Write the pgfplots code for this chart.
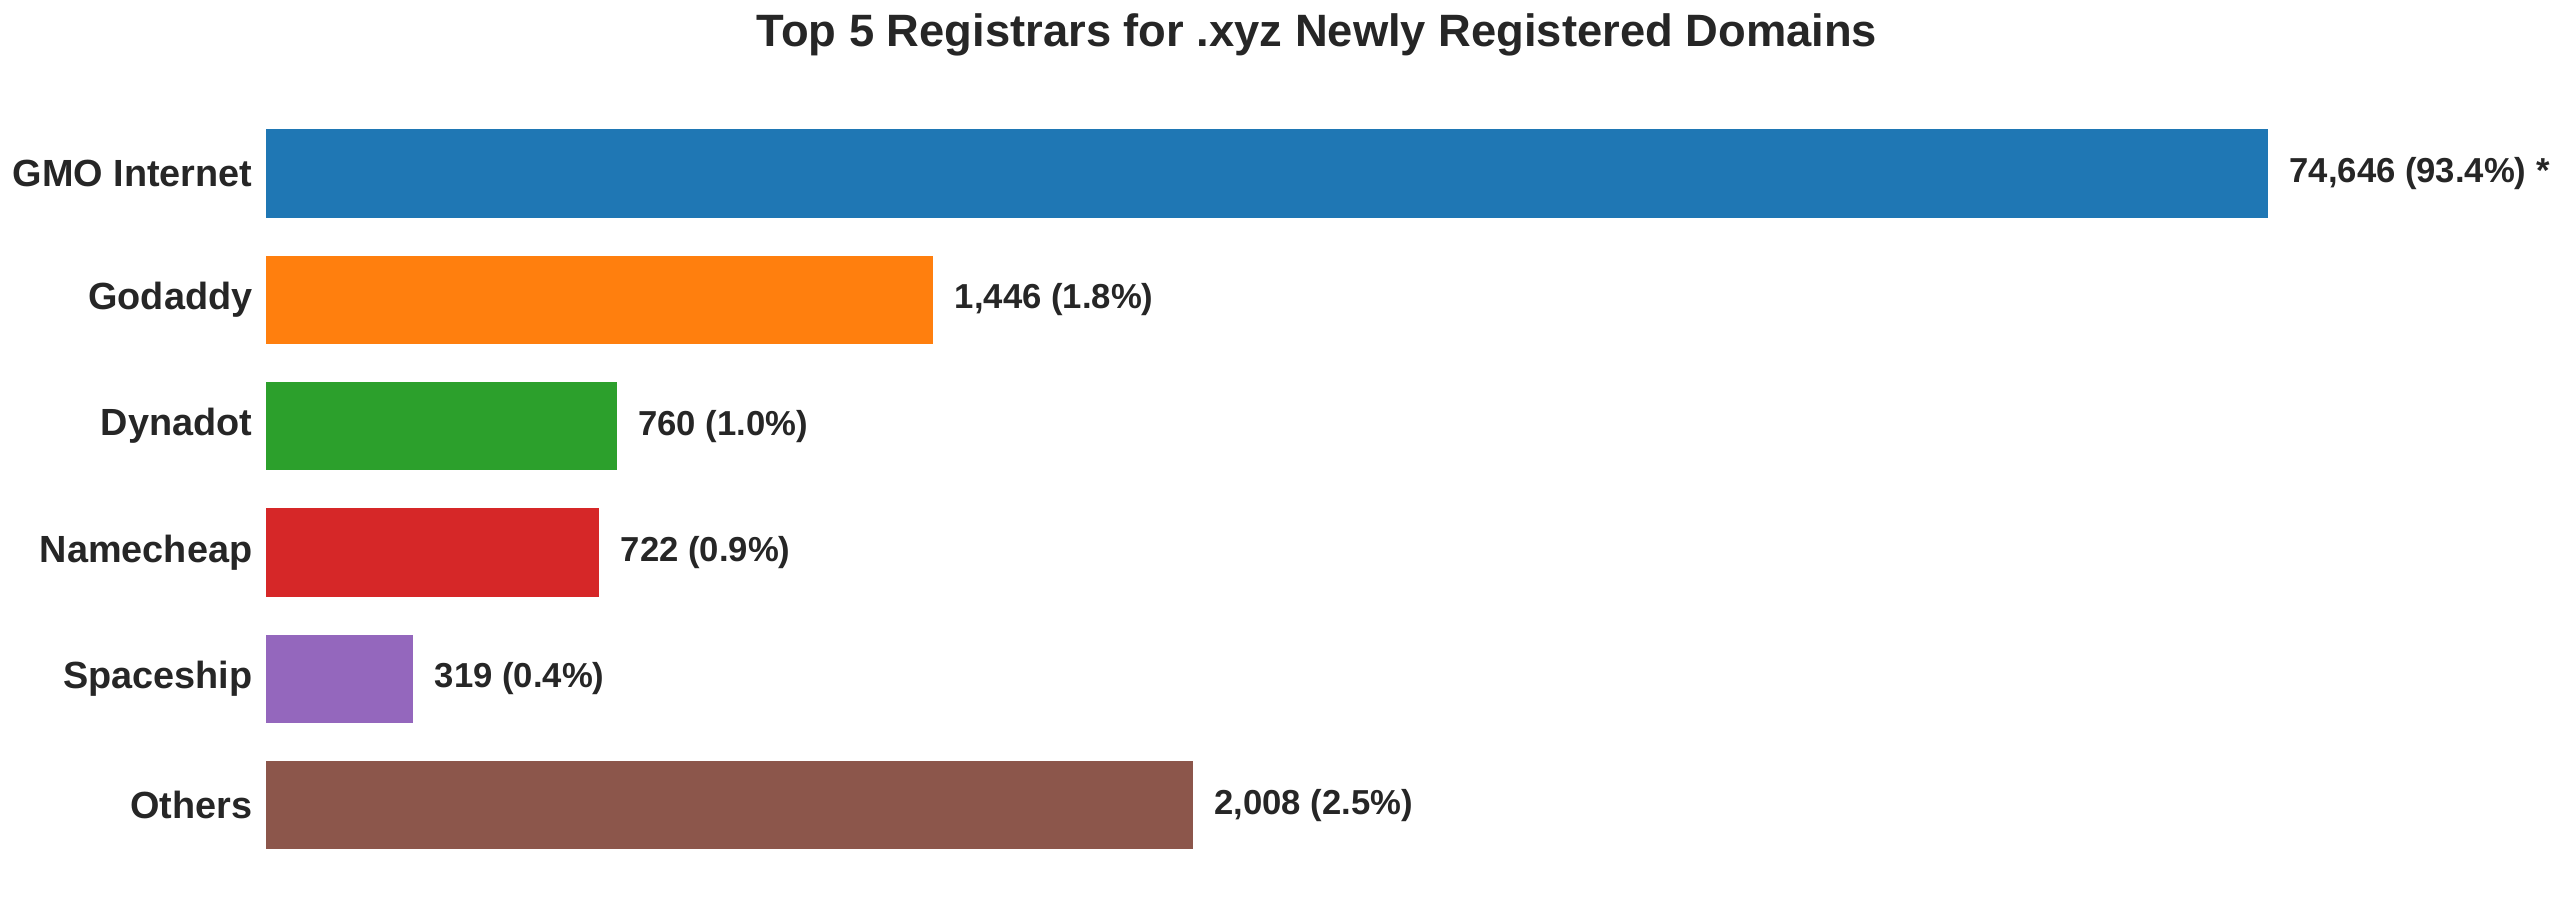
\documentclass[border=0pt]{standalone}
\usepackage{pgfplots}
\pgfplotsset{compat=1.18}
\usepackage{fontspec}
\setmainfont{Liberation Sans}
\definecolor{txt}{HTML}{262626}
\definecolor{c1}{HTML}{1F77B4}
\definecolor{c2}{HTML}{FF7F0E}
\definecolor{c3}{HTML}{2CA02C}
\definecolor{c4}{HTML}{D62728}
\definecolor{c5}{HTML}{9467BD}
\definecolor{c6}{HTML}{8C564B}
\begin{document}
\begin{tikzpicture}
\begin{axis}[
    at={(0,0)}, anchor=south west,
    scale only axis,
    width=630.6pt, height=237.6pt,
    xbar, bar width=0.7, bar shift=0pt,
    xmin=0, xmax=4555,
    ymin=-0.635, ymax=5.635,
    y dir=reverse,
    axis line style={draw=none},
    hide x axis,
    major tick length=0pt,
    ytick={0,1,2,3,4,5},
    yticklabels={GMO Internet,Godaddy,Dynadot,Namecheap,Spaceship,Others},
    yticklabel style={font=\fontsize{11.35}{13}\selectfont\bfseries, text=txt, inner sep=0pt, xshift=-3.9pt},
    point meta=explicit symbolic,
    nodes near coords,
    every node near coord/.append style={anchor=west, inner sep=0pt, xshift=6.3pt,
        font=\fontsize{10.4}{12}\selectfont\bfseries, text=txt},
    clip=false,
    ]
% GMO Internet is drawn capped at 3x the second bar (true value in its label)
\addplot[fill=c1, draw=none] coordinates {(4338,0) [74,646 (93.4\%) *]};
\addplot[fill=c2, draw=none] coordinates {(1446,1) [1,446 (1.8\%)]};
\addplot[fill=c3, draw=none] coordinates {(760,2) [760 (1.0\%)]};
\addplot[fill=c4, draw=none] coordinates {(722,3) [722 (0.9\%)]};
\addplot[fill=c5, draw=none] coordinates {(319,4) [319 (0.4\%)]};
\addplot[fill=c6, draw=none] coordinates {(2008,5) [2,008 (2.5\%)]};
\node[anchor=base, inner sep=0pt, text=txt, font=\fontsize{13.6}{16}\selectfont\bfseries]
    at (rel axis cs:0.5,1) [yshift=13.9pt] {Top 5 Registrars for .xyz Newly Registered Domains};
\end{axis}
\pgfresetboundingbox
\path (-79.8pt,-4.5pt) rectangle (688.2pt,265.6pt);
\end{tikzpicture}
\end{document}
